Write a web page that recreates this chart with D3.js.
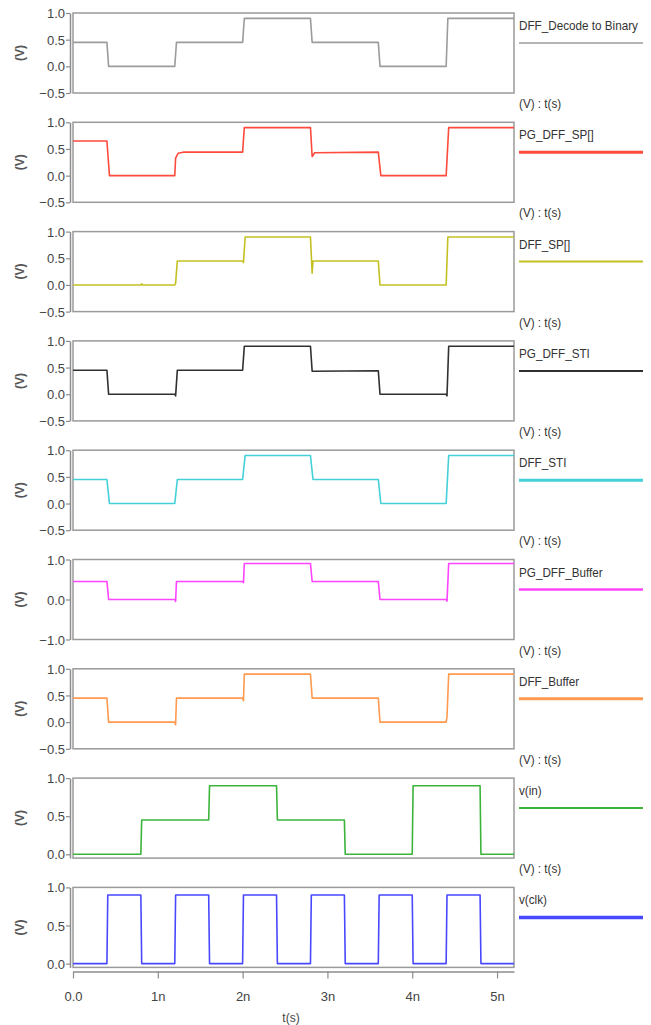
<!DOCTYPE html>
<html>
<head>
<meta charset="utf-8">
<script src="https://cdn.jsdelivr.net/npm/d3@7"></script>
<style>
  body { margin: 0; background: #fff; }
  text { font-family: "Liberation Sans", Arial, sans-serif; }
  .legend { font-size: 13px; fill: #333; }
</style>
</head>
<body>
<div id="chart"></div>
<script>
// signal names, top to bottom
var names = ["DFF_Decode to Binary", "PG_DFF_SP[]", "DFF_SP[]", "PG_DFF_STI", "DFF_STI",
             "PG_DFF_Buffer", "DFF_Buffer", "v(in)", "v(clk)"];

// waveforms as [time (ns), volts]
var decode = [[0,0.45],[0.4,0.45],[0.42,0],[1.2,0],[1.22,0.45],[2.0,0.45],[2.02,0.9],[2.8,0.9],[2.82,0.45],[3.6,0.45],[3.62,0],[4.4,0],[4.42,0.9],[5.2,0.9]];
var pgSp = [[0,0.65],[0.4,0.65],[0.43,0],[1.2,0],[1.21,0.33],[1.24,0.42],[1.3,0.44],[2.0,0.44],[2.02,0.9],[2.8,0.9],[2.82,0.36],[2.85,0.43],[3.6,0.44],[3.63,0],[4.4,0],[4.43,0.9],[5.2,0.9]];
var dffSp = [[0,0],[0.8,0],[0.81,0.02],[0.82,0],[1.2,0],[1.21,0.03],[1.23,0.45],[2.0,0.45],[2.01,0.42],[2.03,0.9],[2.8,0.9],[2.82,0.22],[2.83,0.45],[3.6,0.45],[3.62,0],[4.4,0],[4.42,0.9],[5.2,0.9]];
var pgSti = [[0,0.45],[0.4,0.45],[0.42,0],[1.2,0],[1.21,-0.03],[1.23,0.45],[2.0,0.45],[2.02,0.9],[2.8,0.9],[2.82,0.43],[3.6,0.44],[3.62,0],[4.4,0],[4.41,-0.03],[4.43,0.9],[5.2,0.9]];
var dffSti = [[0,0.45],[0.4,0.45],[0.43,0],[1.2,0],[1.23,0.45],[2.0,0.45],[2.03,0.9],[2.8,0.9],[2.83,0.45],[3.6,0.45],[3.63,0],[4.4,0],[4.43,0.9],[5.2,0.9]];
var pgBuffer = [[0,0.45],[0.4,0.45],[0.42,0],[1.2,0],[1.21,-0.05],[1.22,0.45],[2.0,0.45],[2.01,0.42],[2.02,0.9],[2.8,0.9],[2.82,0.45],[3.6,0.45],[3.62,0],[4.4,0],[4.41,-0.04],[4.43,0.9],[5.2,0.9]];
var dffBuffer = [[0,0.45],[0.4,0.45],[0.42,0],[1.2,0],[1.21,-0.05],[1.22,0.45],[2.0,0.45],[2.01,0.4],[2.02,0.9],[2.8,0.9],[2.82,0.45],[3.6,0.45],[3.62,0],[4.4,0],[4.41,0.1],[4.43,0.9],[5.2,0.9]];
var vin = [[0,0],[0.8,0],[0.81,0.45],[1.6,0.45],[1.61,0.9],[2.4,0.9],[2.41,0.45],[3.2,0.45],[3.21,0],[4.0,0],[4.01,0.9],[4.8,0.9],[4.81,0],[5.2,0]];
var vclk = [[0,0],[0.4,0],[0.41,0.9],[0.8,0.9],[0.81,0],[1.2,0],[1.21,0.9],[1.6,0.9],[1.61,0],[2.0,0],[2.01,0.9],[2.4,0.9],[2.41,0],[2.8,0],[2.81,0.9],[3.2,0.9],[3.21,0],[3.6,0],[3.61,0.9],[4.0,0.9],[4.01,0],[4.4,0],[4.41,0.9],[4.8,0.9],[4.81,0],[5.2,0]];

var waves = [decode, pgSp, dffSp, pgSti, dffSti, pgBuffer, dffBuffer, vin, vclk];

// y ranges and ticks per panel
var yDomains = [[-0.5,1],[-0.5,1],[-0.5,1],[-0.5,1],[-0.5,1],[-1,1],[-0.5,1],[-0.05,1],[-0.05,1]];
var yTicks = [[-0.5,0,0.5,1],[-0.5,0,0.5,1],[-0.5,0,0.5,1],[-0.5,0,0.5,1],[-0.5,0,0.5,1],
              [-1,0,1],[-0.5,0,0.5,1],[0,0.5,1],[0,0.5,1]];
var xTicks = [0, 1, 2, 3, 4, 5];
var xTickLabels = ["0.0", "1n", "2n", "3n", "4n", "5n"];

var colors = ["#9c9c9c", "#ff4a3c", "#c4c024", "#303030", "#44d0d8", "#ff44ff", "#ff9a50", "#3cb43c", "#4848ff"];
var legendWidths = [1.5, 3, 2, 2, 3, 2.5, 3, 2, 3.5];

var svgWidth = 651, svgHeight = 1025;
var left = 73, right = 514;
var panelTop = 13, panelHeight = 80, panelStep = 109.3;

var svg = d3.select("#chart").append("svg")
    .attr("width", svgWidth)
    .attr("height", svgHeight);

var x = d3.scaleLinear().domain([0, 5.2]).range([left, right]);

// condensed legend text, like the simulator's narrow font
function legendText(g, xPos, yPos, str) {
    g.append("text")
        .attr("class", "legend")
        .attr("transform", "translate(" + xPos + "," + yPos + ") scale(0.9,1)")
        .text(str);
}

names.forEach(function(name, i) {
    var top = panelTop + i * panelStep;
    var bottom = top + panelHeight;
    var y = d3.scaleLinear().domain(yDomains[i]).range([bottom, top]);
    var g = svg.append("g");

    g.append("clipPath").attr("id", "clip" + i)
      .append("rect")
        .attr("x", left).attr("y", top - 2)
        .attr("width", right - left).attr("height", panelHeight + 4);

    // y axis, offset a little left of the frame
    var yAxis = d3.axisLeft(y).tickValues(yTicks[i]).tickFormat(d3.format(".1f")).tickSize(4).tickSizeOuter(0);
    var ya = g.append("g")
        .attr("transform", "translate(" + (left - 3) + ",0)")
        .call(yAxis);
    ya.select(".domain").attr("stroke", "#8c8c8c").attr("stroke-width", 1.5);
    ya.selectAll(".tick line").attr("stroke", "#8c8c8c").attr("stroke-width", 1.2);
    ya.selectAll(".tick text").attr("x", -5).attr("dy", "0.35em")
        .style("font-size", "13px").style("fill", "#444").style("font-family", "Liberation Sans, Arial, sans-serif");

    // plot frame
    g.append("rect")
        .attr("x", left).attr("y", top)
        .attr("width", right - left).attr("height", panelHeight)
        .attr("fill", "none")
        .attr("stroke", "#9a9a9a")
        .attr("stroke-width", 1.5);

    // "(V)" label
    g.append("text")
        .attr("transform", "translate(24," + (top + panelHeight / 2) + ") rotate(-90)")
        .attr("text-anchor", "middle")
        .style("font-size", "12px")
        .style("font-weight", "bold")
        .style("fill", "#555")
        .text("(V)");

    var line = d3.line()
        .x(d => x(d[0]))
        .y(d => y(d[1]));

    g.append("path")
        .datum(waves[i])
        .attr("clip-path", "url(#clip" + i + ")")
        .attr("fill", "none")
        .attr("stroke", colors[i])
        .attr("stroke-width", 1.6)
        .attr("stroke-linejoin", "round")
        .attr("d", line);

    // legend on the right
    legendText(g, 519, top + 17, name);
    g.append("line")
        .attr("x1", 519).attr("x2", 643)
        .attr("y1", top + 30).attr("y2", top + 30)
        .attr("stroke", colors[i])
        .attr("stroke-width", legendWidths[i]);

    if (i < names.length - 1) {
        legendText(g, 519, bottom + 15, "(V) : t(s)");
    }
});

// shared time axis under the last panel
var axisY = panelTop + 8 * panelStep + panelHeight + 4;
var xAxis = d3.axisBottom(x).tickValues(xTicks).tickFormat((d, k) => xTickLabels[k]).tickSize(7).tickSizeOuter(0);
var xa = svg.append("g")
    .attr("transform", "translate(0," + axisY + ")")
    .call(xAxis);
xa.select(".domain").attr("stroke", "#8c8c8c").attr("stroke-width", 1.5);
xa.selectAll(".tick line").attr("stroke", "#8c8c8c").attr("stroke-width", 1.2);
xa.selectAll(".tick text").attr("y", 20)
    .style("font-size", "13px").style("fill", "#444").style("font-family", "Liberation Sans, Arial, sans-serif");

svg.append("text")
    .attr("x", 291)
    .attr("y", 1022)
    .attr("text-anchor", "middle")
    .style("font-size", "12px")
    .style("fill", "#444")
    .text("t(s)");
</script>
</body>
</html>
